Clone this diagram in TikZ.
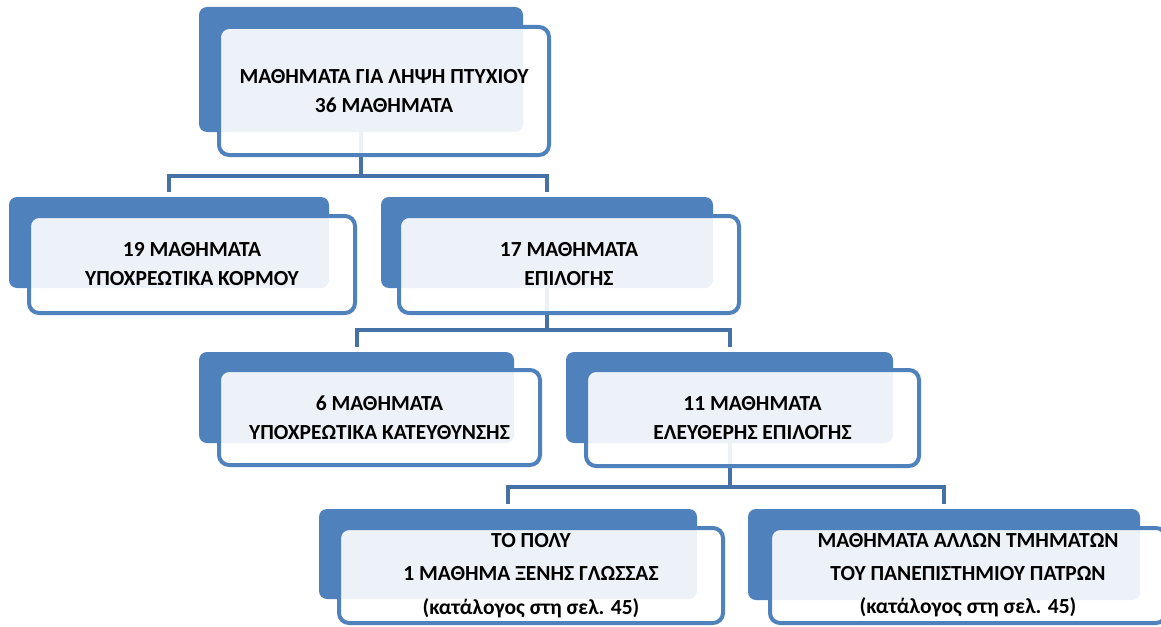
\documentclass[tikz,border=0pt]{standalone}
\usepackage{fontspec}
\setmainfont{Carlito}
\usetikzlibrary{backgrounds}
\definecolor{officeblue}{HTML}{4F81BD}
\definecolor{linkblue}{HTML}{4571A6}

\begin{document}
\begin{tikzpicture}[x=1pt, y=-1pt,
  back/.style={fill=officeblue, rounded corners=8pt, inner sep=0pt},
  front/.style={draw=officeblue, line width=4pt, fill=white, fill opacity=0.9, text opacity=1,
    rounded corners=10pt, inner sep=0pt, align=center, font=\bfseries\fontsize{21.5}{29}\selectfont},
  link/.style={draw=linkblue, line width=4pt}]
\useasboundingbox (0,0) rectangle (1161,626);

% level 1
\node[back, minimum width=324pt, minimum height=125pt] (topb) at (361,69.5) {};
\node[front, minimum width=330pt, minimum height=128pt] (top) at (384,91) {ΜΑΘΗΜΑΤΑ ΓΙΑ ΛΗΨΗ ΠΤΥΧΙΟΥ\\36 ΜΑΘΗΜΑΤΑ};

% level 2
\node[back, minimum width=320pt, minimum height=91pt] (coreb) at (169,242.5) {};
\node[front, minimum width=326pt, minimum height=97pt] (core) at (192,264.5) {19 ΜΑΘΗΜΑΤΑ\\ΥΠΟΧΡΕΩΤΙΚΑ ΚΟΡΜΟΥ};
\node[back, minimum width=332pt, minimum height=91pt] (optb) at (547,242.5) {};
\node[front, minimum width=340pt, minimum height=97pt] (opt) at (569,264.5) {17 ΜΑΘΗΜΑΤΑ\\ΕΠΙΛΟΓΗΣ};

% level 3
\node[back, minimum width=315pt, minimum height=91pt] (dirb) at (356.5,397.5) {};
\node[front, minimum width=321pt, minimum height=95pt] (dir) at (379.5,417.5) {6 ΜΑΘΗΜΑΤΑ\\ΥΠΟΧΡΕΩΤΙΚΑ ΚΑΤΕΥΘΥΝΣΗΣ};
\node[back, minimum width=327pt, minimum height=91pt] (freeb) at (729.5,397.5) {};
\node[front, minimum width=333pt, minimum height=96pt] (free) at (752.5,418) {11 ΜΑΘΗΜΑΤΑ\\ΕΛΕΥΘΕΡΗΣ ΕΠΙΛΟΓΗΣ};

% level 4
\node[back, minimum width=378pt, minimum height=90pt] (langb) at (508,554) {};
\node[front, minimum width=384pt, minimum height=95pt, font=\bfseries\fontsize{21.5}{33.5}\selectfont] (lang) at (531,575.5)
  {ΤΟ ΠΟΛΥ\\1 ΜΑΘΗΜΑ ΞΕΝΗΣ ΓΛΩΣΣΑΣ\\(κατάλογος στη σελ. 45)};
\node[back, minimum width=392pt, minimum height=91pt] (otherb) at (944,554.5) {};
\node[front, minimum width=396pt, minimum height=95pt, font=\bfseries\fontsize{21.5}{33}\selectfont] (other) at (968,575.5)
  {ΜΑΘΗΜΑΤΑ ΑΛΛΩΝ ΤΜΗΜΑΤΩΝ\\ΤΟΥ ΠΑΝΕΠΙΣΤΗΜΙΟΥ ΠΑΤΡΩΝ\\(κατάλογος στη σελ. 45)};

% connectors
\begin{scope}[on background layer]
\coordinate (busA) at (topb.center |- 0,176);
\coordinate (busB) at (optb.center |- 0,330);
\coordinate (busC) at (freeb.center |- 0,487);
\draw[link] (topb.center) -- (busA);
\draw[link, shorten <=5pt, shorten >=5pt] (coreb.north) |- (busA) -| (optb.north);
\draw[link] (optb.center) -- (busB);
\draw[link, shorten <=5pt, shorten >=5pt] (dirb.north) |- (busB) -| (freeb.north);
\draw[link] (freeb.center) -- (busC);
\draw[link, shorten <=5pt, shorten >=5pt] (langb.north) |- (busC) -| (otherb.north);
\end{scope}
\end{tikzpicture}
\end{document}
